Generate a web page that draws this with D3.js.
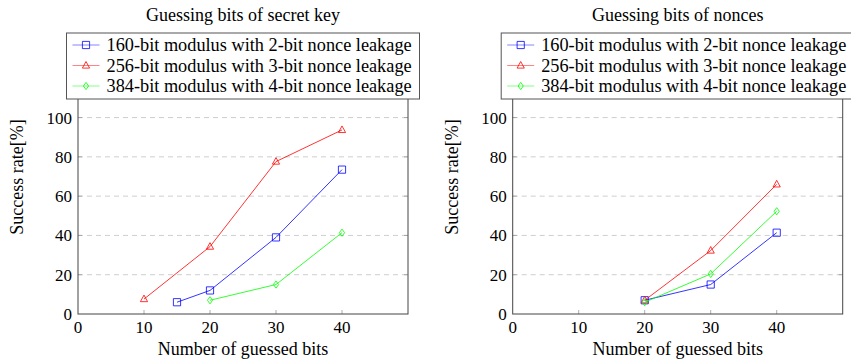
<!DOCTYPE html>
<html lang="en">
<head>
<meta charset="utf-8">
<title>Guessing bits</title>
<script src="https://d3js.org/d3.v7.min.js"></script>
<style>
  body { margin: 0; background: #fff; }
  text { font-family: "Liberation Serif", "Times New Roman", serif; fill: #000; }
</style>
</head>
<body>
<script>
// tick labels
var xTicks = [0, 10, 20, 30, 40];
var yTicks = [0, 20, 40, 60, 80, 100];

// series
var seriesNames = [
  "160-bit modulus with 2-bit nonce leakage",
  "256-bit modulus with 3-bit nonce leakage",
  "384-bit modulus with 4-bit nonce leakage"
];
var seriesColors = ["#0000ff", "#ff0000", "#00ff00"];
var seriesMarks = ["square", "triangle", "diamond"];

// left: guessing bits of secret key
var keyX160 = [15, 20, 30, 40];
var keyY160 = [6, 12, 39, 73.5];
var keyX256 = [10, 20, 30, 40];
var keyY256 = [7.6, 34.3, 77.6, 93.7];
var keyX384 = [20, 30, 40];
var keyY384 = [7, 15, 41.4];

// right: guessing bits of nonces
var nonceX = [20, 30, 40];
var nonceY160 = [7, 15, 41.4];
var nonceY256 = [7, 32.3, 66];
var nonceY384 = [6, 20.4, 52.3];

var panels = [
  { title: "Guessing bits of secret key", left: 78,
    series: [[keyX160, keyY160], [keyX256, keyY256], [keyX384, keyY384]] },
  { title: "Guessing bits of nonces", left: 512.7,
    series: [[nonceX, nonceY160], [nonceX, nonceY256], [nonceX, nonceY384]] }
];

var W = 851, H = 360;
var svg = d3.select("body").append("svg").attr("width", W).attr("height", H);

function markPath(type) {
  if (type == "square") return "M-3.6,-3.6H3.6V3.6H-3.6Z";
  if (type == "triangle") return "M0,-4L3.6,2.6H-3.6Z";
  return "M0,-3.6L2.6,0L0,3.6L-2.6,0Z";
}

panels.forEach(function(p) {
  var pw = 330;
  var xScale = d3.scaleLinear().domain([0, 50]).range([p.left, p.left + pw]);
  var yScale = d3.scaleLinear().domain([0, 140]).range([314, 39]);
  var g = svg.append("g");

  // grid
  g.selectAll("line.grid").data(yTicks.slice(1)).enter().append("line")
    .attr("x1", xScale(0)).attr("x2", xScale(50))
    .attr("y1", d => yScale(d)).attr("y2", d => yScale(d))
    .attr("stroke", "#c8c8c8").attr("stroke-width", 0.9).attr("stroke-dasharray", "5,4");

  // inner ticks
  var tk = g.append("g").attr("stroke", "#999").attr("stroke-width", 0.8);
  xTicks.slice(1).forEach(function(d) {
    tk.append("line").attr("x1", xScale(d)).attr("x2", xScale(d)).attr("y1", 314).attr("y2", 310);
  });
  yTicks.slice(1).forEach(function(d) {
    tk.append("line").attr("x1", xScale(0)).attr("x2", xScale(0) + 4).attr("y1", yScale(d)).attr("y2", yScale(d));
    tk.append("line").attr("x1", xScale(50)).attr("x2", xScale(50) - 4).attr("y1", yScale(d)).attr("y2", yScale(d));
  });

  // frame
  g.append("rect").attr("x", xScale(0)).attr("y", yScale(140))
    .attr("width", pw).attr("height", yScale(0) - yScale(140))
    .attr("fill", "none").attr("stroke", "#444").attr("stroke-width", 1);

  // tick labels
  g.selectAll("text.xt").data(xTicks).enter().append("text")
    .attr("x", d => xScale(d)).attr("y", 333).attr("text-anchor", "middle")
    .attr("font-size", 17).text(d => d);
  g.selectAll("text.yt").data(yTicks).enter().append("text")
    .attr("x", xScale(0) - 6).attr("y", d => yScale(d) + 6).attr("text-anchor", "end")
    .attr("font-size", 17).text(d => d);

  // axis titles
  g.append("text").attr("x", p.left + pw / 2).attr("y", 355).attr("text-anchor", "middle")
    .attr("font-size", 18).text("Number of guessed bits");
  g.append("text").attr("transform", `translate(${p.left - 55},177) rotate(-90)`)
    .attr("text-anchor", "middle").attr("font-size", 18).text("Success rate[%]");

  // series
  p.series.forEach(function(s, i) {
    var pts = s[0].map((x, j) => [x, s[1][j]]);
    var line = d3.line().x(d => xScale(d[0])).y(d => yScale(d[1]));
    g.append("path").attr("d", line(pts)).attr("fill", "none")
      .attr("stroke", seriesColors[i]).attr("stroke-width", 0.8);
    g.selectAll(null).data(pts).enter().append("path")
      .attr("transform", d => `translate(${xScale(d[0])},${yScale(d[1])})`)
      .attr("d", markPath(seriesMarks[i])).attr("fill", "none")
      .attr("stroke", seriesColors[i]).attr("stroke-width", 0.8);
  });

  // title
  g.append("text").attr("x", p.left + pw / 2).attr("y", 21).attr("text-anchor", "middle")
    .attr("font-size", 18).text(p.title);

  // legend
  var lx = p.left + pw / 2 - 176.5;
  var lg = g.append("g").attr("transform", `translate(${lx},33)`);
  lg.append("rect").attr("width", 353).attr("height", 66)
    .attr("fill", "#fff").attr("stroke", "#555").attr("stroke-width", 1);
  seriesNames.forEach(function(name, i) {
    var cy = 12 + i * 20.5;
    lg.append("line").attr("x1", 6).attr("x2", 33).attr("y1", cy).attr("y2", cy)
      .attr("stroke", seriesColors[i]).attr("stroke-width", 0.8).attr("opacity", 0.6);
    lg.append("path").attr("transform", `translate(19.5,${cy})`).attr("d", markPath(seriesMarks[i]))
      .attr("fill", "none").attr("stroke", seriesColors[i]).attr("stroke-width", 0.8);
    lg.append("text").attr("x", 40).attr("y", cy + 6).attr("font-size", 18.3).text(name);
  });
});
</script>
</body>
</html>
